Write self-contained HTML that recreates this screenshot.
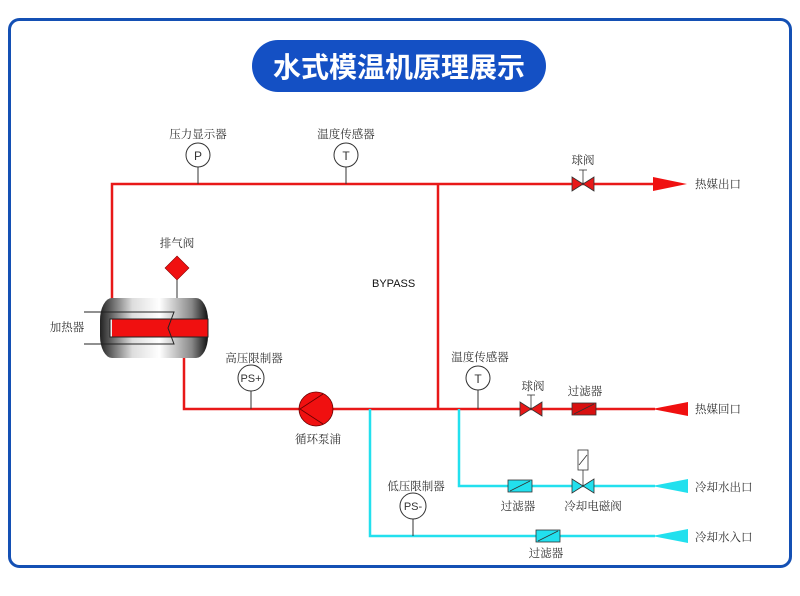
<!DOCTYPE html>
<html><head><meta charset="utf-8"><style>
html,body{margin:0;padding:0;background:#fff;}
svg{display:block;}
text{font-family:"Liberation Serif","Noto Serif CJK SC",serif;font-size:11.5px;fill:#333;}
</style></head><body>
<svg width="800" height="596" viewBox="0 0 800 596" xmlns="http://www.w3.org/2000/svg">
<defs>
<linearGradient id="hg" x1="0" x2="1" y1="0" y2="0">
<stop offset="0" stop-color="#222"/><stop offset="0.3" stop-color="#ddd"/><stop offset="0.55" stop-color="#fff"/><stop offset="0.85" stop-color="#888"/><stop offset="1" stop-color="#111"/>
</linearGradient>
</defs>
<rect x="9.5" y="19.5" width="781" height="547" rx="10" fill="#fff" stroke="#1450b4" stroke-width="3"/>
<rect x="252" y="40" width="294" height="52" rx="26" fill="#1450c4"/>
<text x="399" y="77" text-anchor="middle" style="font-family:'Liberation Sans','Noto Sans CJK SC',sans-serif;font-size:28px;font-weight:bold;fill:#fff">水式模温机原理展示</text>

<g stroke="#e81818" stroke-width="2.5" fill="none">
<polyline points="112,300 112,184 655,184"/>
<line x1="438" y1="184" x2="438" y2="409"/>
<polyline points="184,356 184,409 655,409"/>
</g>
<g stroke="#22e0ee" stroke-width="2.5" fill="none">
<polyline points="370,409 370,536 655,536"/>
<polyline points="459,409 459,486 655,486"/>
</g>
<polygon points="653,177 687,184 653,191" fill="#f01010"/>
<polygon points="652,409 688,402 688,416" fill="#f01010"/>
<polygon points="652,486 688,479 688,493" fill="#22e0ee"/>
<polygon points="652,536 688,529 688,543" fill="#22e0ee"/>
<text x="695" y="188">热媒出口</text>
<text x="695" y="413">热媒回口</text>
<text x="695" y="491">冷却水出口</text>
<text x="695" y="541">冷却水入口</text>

<g stroke="#333" stroke-width="1" fill="#fff">
<line x1="198" y1="167" x2="198" y2="184"/><circle cx="198" cy="155" r="12"/>
<line x1="346" y1="167" x2="346" y2="184"/><circle cx="346" cy="155" r="12"/>
<line x1="478" y1="390" x2="478" y2="409"/><circle cx="478" cy="378" r="12"/>
<line x1="251" y1="391" x2="251" y2="409"/><circle cx="251" cy="378" r="13"/>
<line x1="413" y1="519" x2="413" y2="536"/><circle cx="413" cy="506" r="13"/>
</g>
<text x="198" y="160" text-anchor="middle" style="font-family:'Liberation Sans',sans-serif;font-size:12px">P</text>
<text x="346" y="160" text-anchor="middle" style="font-family:'Liberation Sans',sans-serif;font-size:12px">T</text>
<text x="478" y="383" text-anchor="middle" style="font-family:'Liberation Sans',sans-serif;font-size:12px">T</text>
<text x="251" y="382" text-anchor="middle" style="font-family:'Liberation Sans',sans-serif;font-size:11px">PS+</text>
<text x="413" y="510" text-anchor="middle" style="font-family:'Liberation Sans',sans-serif;font-size:11px">PS-</text>
<text x="198" y="138" text-anchor="middle">压力显示器</text>
<text x="346" y="138" text-anchor="middle">温度传感器</text>
<text x="480" y="361" text-anchor="middle">温度传感器</text>
<text x="254" y="362" text-anchor="middle">高压限制器</text>
<text x="416" y="490" text-anchor="middle">低压限制器</text>
<text x="372" y="287" style="font-family:'Liberation Sans',sans-serif;font-size:11px;fill:#111">BYPASS</text>

<g stroke="#333" stroke-width="0.8">
<line x1="583" y1="170" x2="583" y2="184"/><line x1="579" y1="170" x2="587" y2="170"/>
<polygon points="572,177 594,191 594,177 572,191" fill="#e81818"/>
<line x1="531" y1="395" x2="531" y2="409"/><line x1="527" y1="395" x2="535" y2="395"/>
<polygon points="520,402 542,416 542,402 520,416" fill="#e81818"/>
<rect x="572" y="403" width="24" height="12" fill="#d81010"/><line x1="574" y1="414" x2="594" y2="404"/>
<rect x="508" y="480" width="24" height="12" fill="#22e0ee"/><line x1="510" y1="491" x2="530" y2="481"/>
<rect x="536" y="530" width="24" height="12" fill="#22e0ee"/><line x1="538" y1="541" x2="558" y2="531"/>
<line x1="583" y1="470" x2="583" y2="486"/>
<rect x="578" y="450" width="10" height="20" fill="#fff"/><line x1="579" y1="465" x2="587" y2="455"/>
<polygon points="572,479 594,493 594,479 572,493" fill="#22e0ee"/>
</g>
<text x="583" y="164" text-anchor="middle">球阀</text>
<text x="533" y="390" text-anchor="middle">球阀</text>
<text x="585" y="395" text-anchor="middle">过滤器</text>
<text x="518" y="510" text-anchor="middle">过滤器</text>
<text x="593" y="510" text-anchor="middle">冷却电磁阀</text>
<text x="546" y="557" text-anchor="middle">过滤器</text>

<circle cx="316" cy="409" r="17" fill="#f01010" stroke="#600" stroke-width="0.8"/>
<polyline points="323,394 300,409 323,424" fill="none" stroke="#600" stroke-width="0.8"/>
<text x="318" y="443" text-anchor="middle">循环泵浦</text>

<line x1="177" y1="278" x2="177" y2="300" stroke="#333"/>
<polygon points="177,256 189,268 177,280 165,268" fill="#f01010" stroke="#800" stroke-width="0.6"/>
<text x="177" y="247" text-anchor="middle">排气阀</text>

<rect x="100" y="298" width="108" height="60" rx="12" ry="22" fill="url(#hg)"/>
<rect x="110" y="319" width="98" height="18" fill="#f01010"/>
<rect x="110" y="319" width="2" height="18" fill="#eee"/>
<g stroke="#222" stroke-width="1" fill="none">
<polyline points="84,312 174,312 168,328 174,344 84,344"/>
<rect x="110" y="319" width="98" height="18"/>
</g>
<text x="67" y="331" text-anchor="middle">加热器</text>
</svg>
</body></html>
